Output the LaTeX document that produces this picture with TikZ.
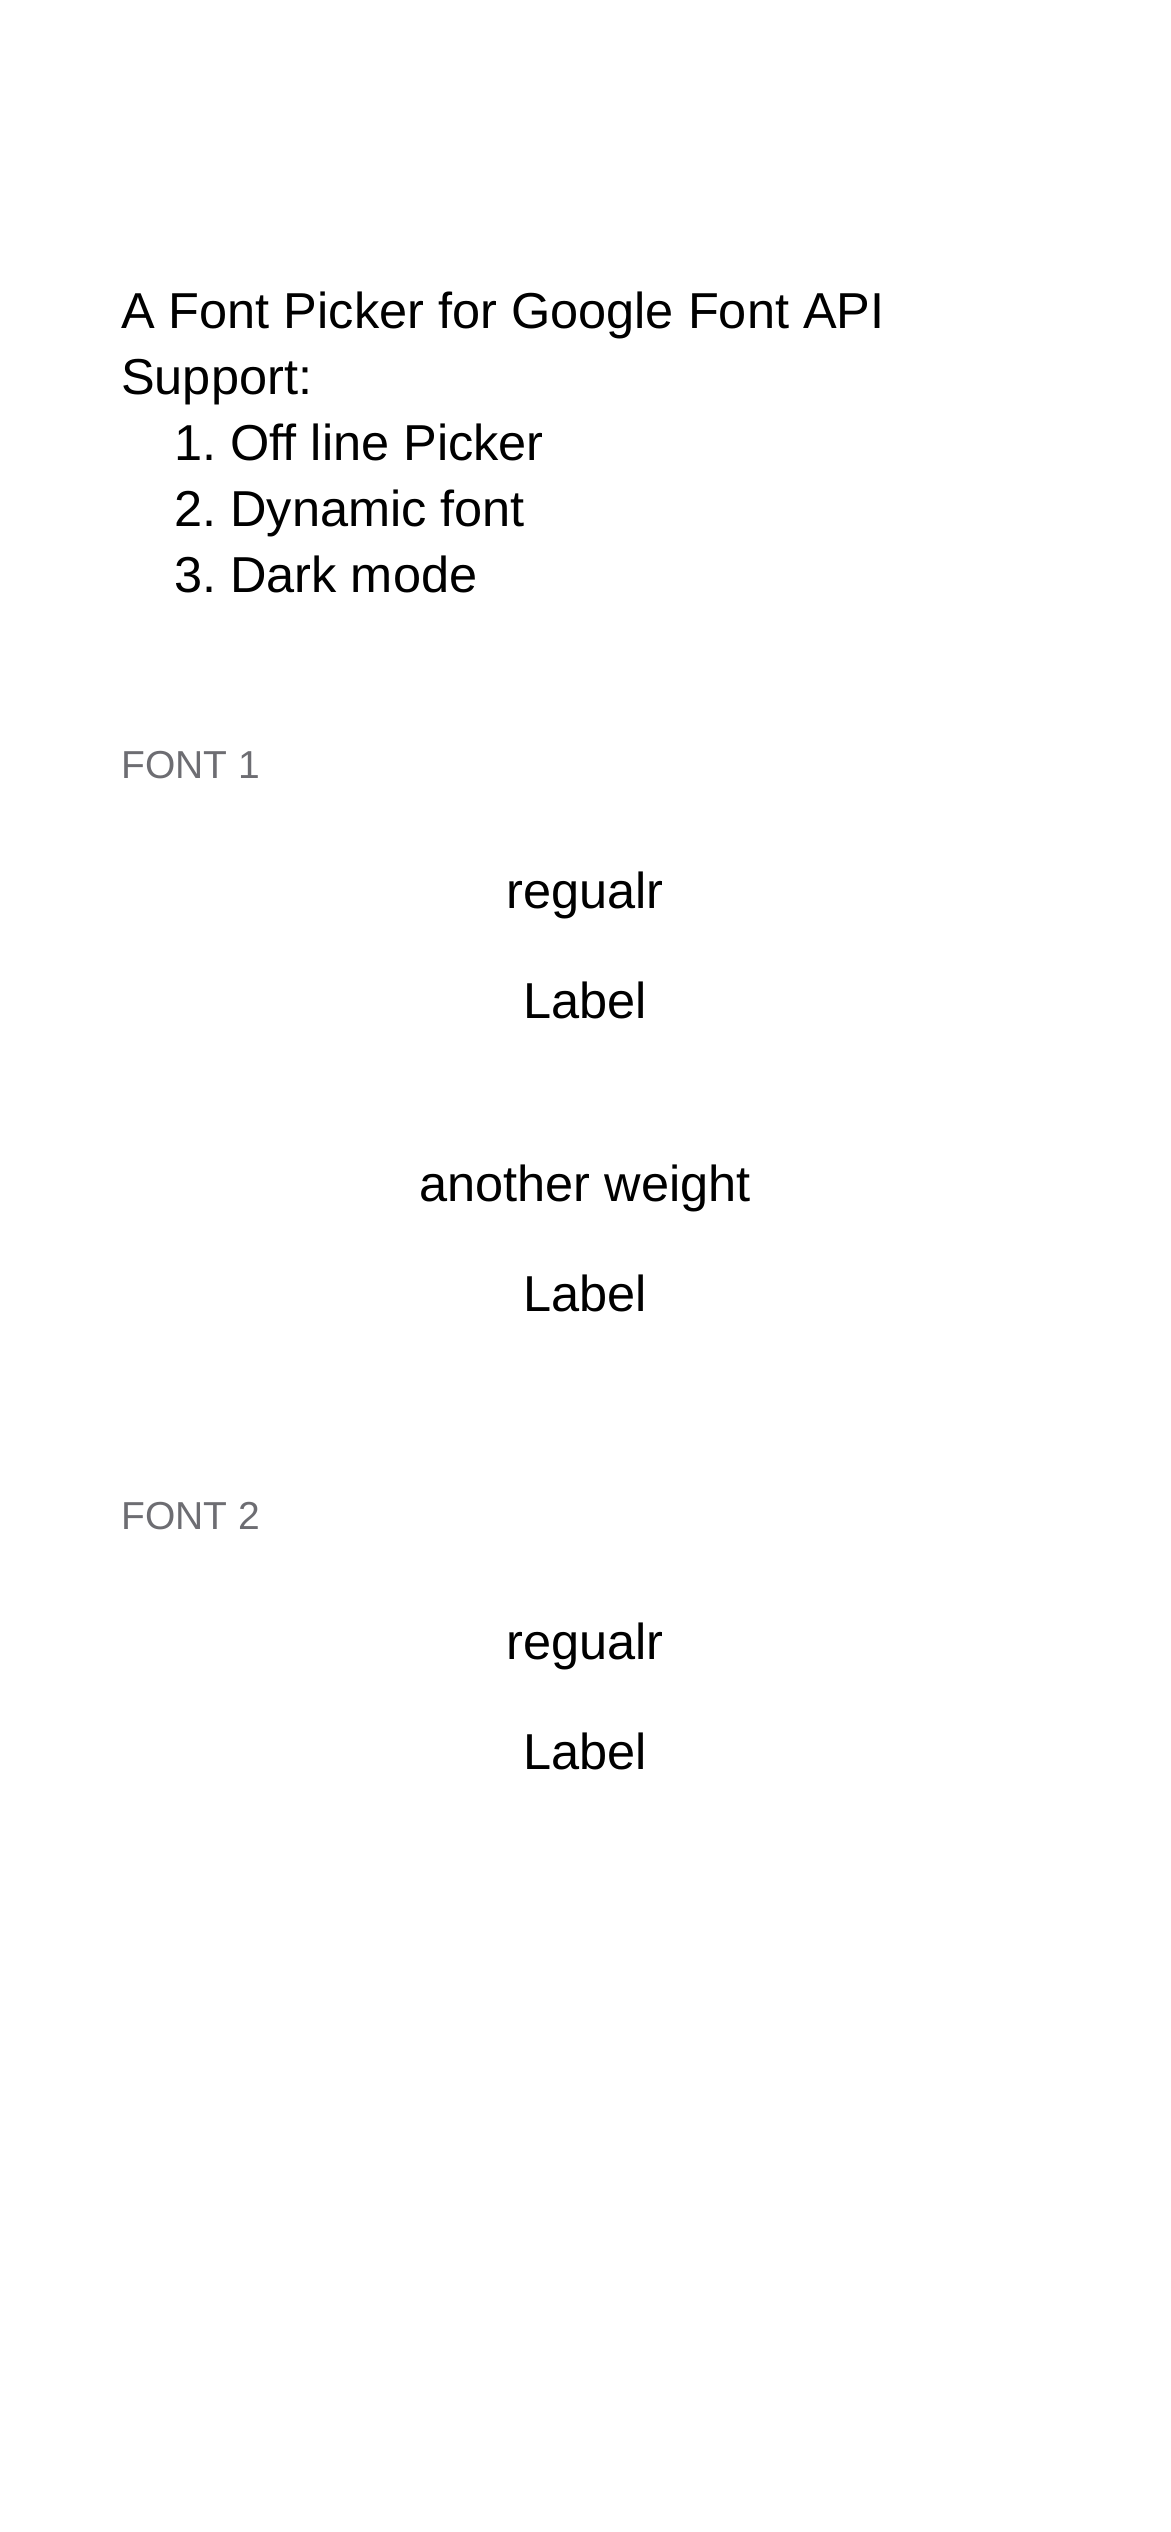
\documentclass[tikz,border=0pt]{standalone}
\usepackage{fontspec}
\setmainfont{Liberation Sans}
\frenchspacing
\definecolor{header-gray}{RGB}{109,109,114}

\begin{document}
\begin{tikzpicture}[x=1pt,y=-1pt,
  body/.style={inner sep=0pt,font=\fontsize{50.5}{66}\selectfont},
  header/.style={inner sep=0pt,text=header-gray,font=\fontsize{39}{47}\selectfont}]

\useasboundingbox (0,0) rectangle (1170,2532);

\node[body,anchor=base west] (title) at (121,328) {A Font Picker for Google Font API};
\node[body,anchor=base west] (support) at (121,394) {Support:};
\node[body,anchor=base west] (item1) at (174,460) {1. Off line Picker};
\node[body,anchor=base west] (item2) at (174,526) {2. Dynamic font};
\node[body,anchor=base west] (item3) at (174,592) {3. Dark mode};

\node[header,anchor=base west] (font1) at (121,778) {FONT 1};
\node[body,anchor=base] (regular1) at (585,908) {regualr};
\node[body,anchor=base] (label1) at (585,1018) {Label};
\node[body,anchor=base] (weight1) at (585,1201) {another weight};
\node[body,anchor=base] (label2) at (585,1311) {Label};

\node[header,anchor=base west] (font2) at (121,1529) {FONT 2};
\node[body,anchor=base] (regular2) at (585,1659) {regualr};
\node[body,anchor=base] (label3) at (585,1769) {Label};

\end{tikzpicture}
\end{document}
